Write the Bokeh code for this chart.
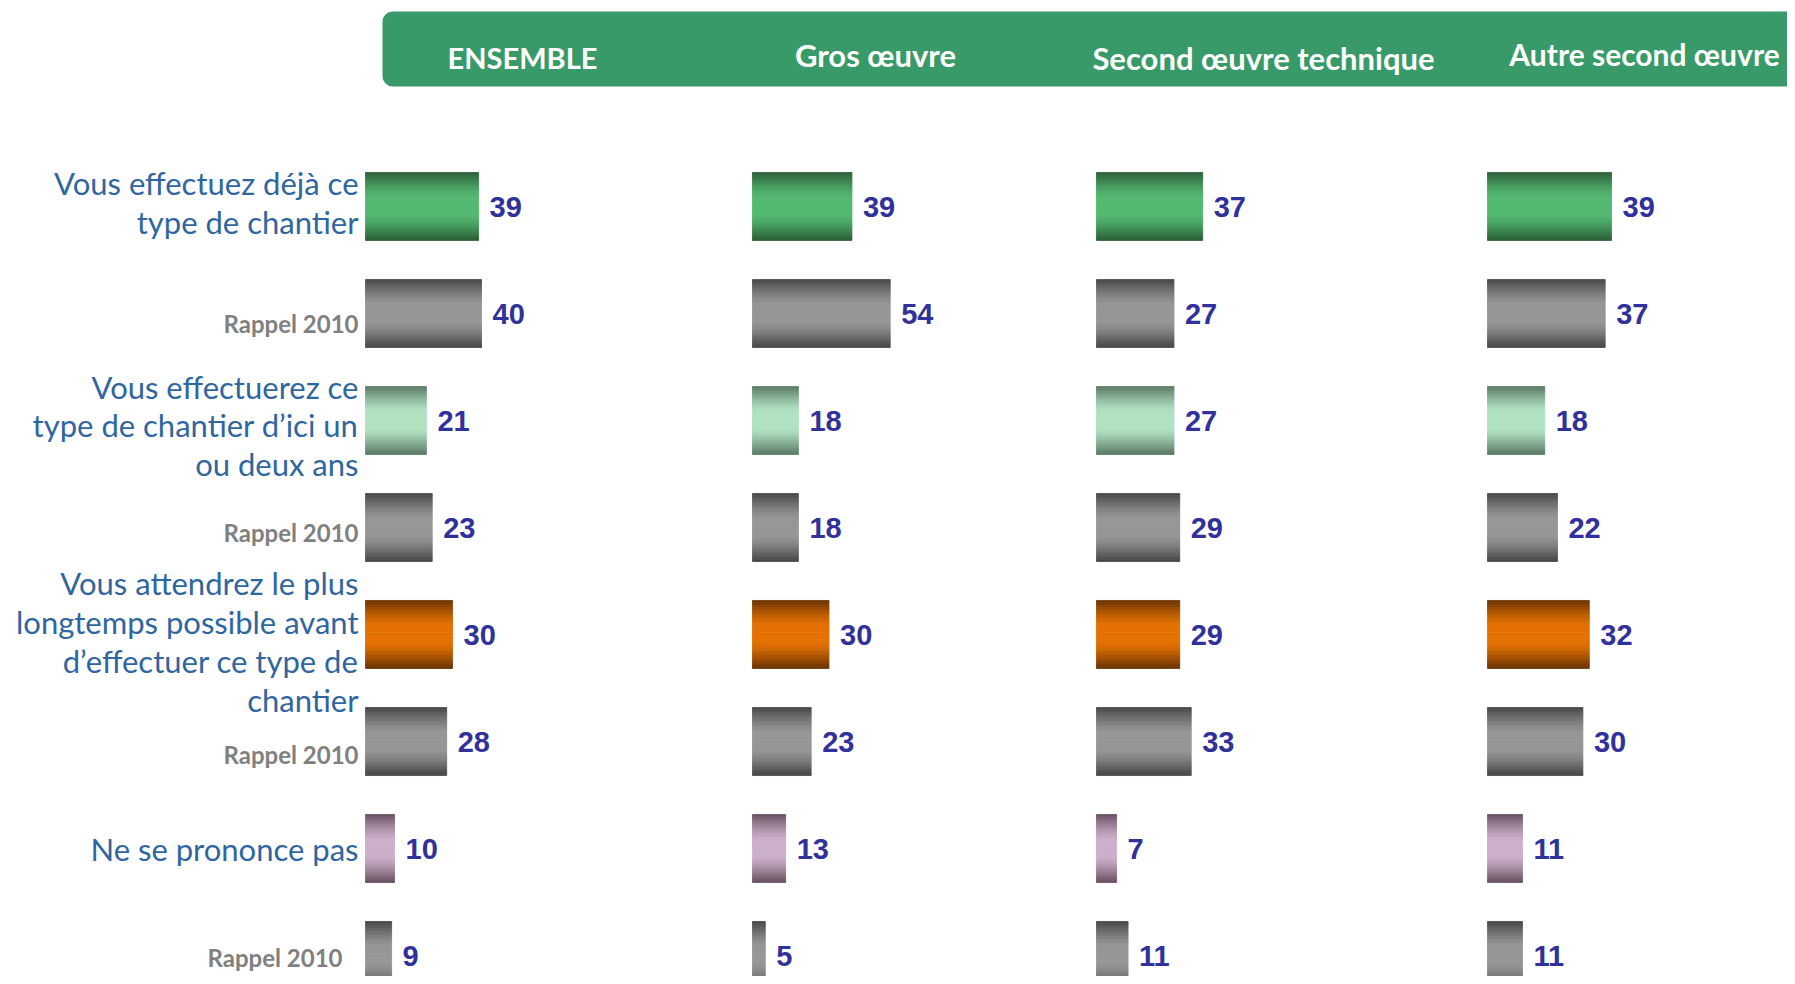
import numpy as np
from bokeh.plotting import figure
from bokeh.models import Range1d, BoxAnnotation, ColumnDataSource
from bokeh.core.properties import value
from bokeh.embed import file_html
from bokeh.resources import INLINE

# ---------------- data ----------------
columns = ["ENSEMBLE", "Gros œuvre", "Second œuvre technique", "Autre second œuvre"]
row_labels = [
    "Vous effectuez déjà ce\ntype de chantier",
    "Rappel 2010",
    "Vous effectuerez ce\ntype de chantier d’ici un\nou deux ans",
    "Rappel 2010",
    "Vous attendrez le plus\nlongtemps possible avant\nd’effectuer ce type de\nchantier",
    "Rappel 2010",
    "Ne se prononce pas",
    "Rappel 2010",
]
row_is_rappel = [False, True, False, True, False, True, False, True]
ensemble = [39, 40, 21, 23, 30, 28, 10, 9]
gros_oeuvre = [39, 54, 18, 18, 30, 23, 13, 5]
second_technique = [37, 27, 27, 29, 29, 33, 7, 11]
autre_second = [39, 37, 18, 22, 32, 30, 11, 11]
series = [ensemble, gros_oeuvre, second_technique, autre_second]

# ---------------- styles / layout ----------------
W, H = 1787, 976
row0_px, row_step = 206, 107
bar_h = 0.636
col_zero_px = [365, 752, 1096, 1487]
col_scale = [2.9, 2.55, 2.87, 3.18]
# (center colour, edge colour) per row
row_colors = [
    ("#53b970", "#2a5c37"),
    ("#969696", "#454545"),
    ("#b0e2c1", "#587763"),
    ("#969696", "#454545"),
    ("#e37100", "#683200"),
    ("#969696", "#454545"),
    ("#ccafca", "#654e5e"),
    ("#969696", "#454545"),
]
label_dy = [-4, 10, 5, 5, 7, 13, 0, 2]
label_dx = [0, 0, 0, 0, 0, 0, 0, -16]
header_x = [522, 875, 1263, 1644]
header_base = [57, 54, 57, 53]
header_size = ["29px", "31px", "31px", "30px"]


def hex2rgb(h):
    h = h.lstrip("#")
    return np.array([int(h[i:i + 2], 16) for i in (0, 2, 4)], dtype=float)


def mix(c1, c2, f):
    r = hex2rgb(c1) * (1 - f) + hex2rgb(c2) * f
    return "#%02x%02x%02x" % tuple(int(round(v)) for v in r)


p = figure(width=W, height=H, output_backend="svg", toolbar_location=None,
           x_range=Range1d(0, W),
           y_range=Range1d((H - row0_px) / row_step, -row0_px / row_step),
           x_axis_location=None, y_axis_location=None, min_border=0,
           outline_line_color=None, background_fill_color="white")
p.grid.visible = False
p.extra_y_ranges = {"px": Range1d(H, 0)}
p.extra_x_ranges = {f"c{c}": Range1d(-z / s, (W - z) / s)
                    for c, (z, s) in enumerate(zip(col_zero_px, col_scale))}

# header band
p.add_layout(BoxAnnotation(left=382, right=1830, top=11, bottom=86,
                           y_range_name="px", fill_color="#379a68", fill_alpha=1,
                           line_color=None, border_radius=10, level="underlay"))
hsrc = ColumnDataSource(dict(x=header_x, y=header_base, text=columns, size=header_size))
p.text(x="x", y="y", text="text", source=hsrc, y_range_name="px",
       text_align="center", text_baseline="alphabetic", text_color="white",
       text_font=value("Lato"), text_font_style="bold", text_font_size="size")

# gradient bars (drawn as horizontal strips)
N = 40
for c, vals in enumerate(series):
    L, R, T, B, C = [], [], [], [], []
    for i, v in enumerate(vals):
        cc, ec = row_colors[i]
        for k in range(N):
            t = abs(2 * (k + 0.5) / N - 1)
            f = max(0.0, (t - 0.25) / 0.75) ** 1.3
            y0 = i - bar_h / 2 + bar_h * k / N
            y1 = i - bar_h / 2 + bar_h * (k + 1) / N
            L.append(0); R.append(v); T.append(y0); B.append(y1)
            C.append(mix(cc, ec, f))
    src = ColumnDataSource(dict(left=L, right=R, top=T, bottom=B, color=C))
    p.quad(left="left", right="right", top="top", bottom="bottom", source=src,
           fill_color="color", line_color="color", line_width=0.8,
           x_range_name=f"c{c}")
    p.text(x=vals, y=list(range(len(vals))), text=[str(v) for v in vals],
           x_range_name=f"c{c}", x_offset=11, text_baseline="middle",
           text_align="left", text_color="#31319b",
           text_font=value("Liberation Sans"), text_font_style="bold",
           text_font_size="29px")

# row labels
main_idx = [i for i, r in enumerate(row_is_rappel) if not r]
rap_idx = [i for i, r in enumerate(row_is_rappel) if r]
p.text(x=[358 + label_dx[i] for i in main_idx],
       y=[row0_px + row_step * i + label_dy[i] for i in main_idx],
       text=[row_labels[i] for i in main_idx], y_range_name="px",
       text_align="right", text_baseline="middle", text_line_height=1.02,
       text_color="#2f66a0", text_font=value("Lato"), text_font_size="31px")
p.text(x=[358 + label_dx[i] for i in rap_idx],
       y=[row0_px + row_step * i + label_dy[i] for i in rap_idx],
       text=[row_labels[i] for i in rap_idx], y_range_name="px",
       text_align="right", text_baseline="middle",
       text_color="#808080", text_font=value("Lato"), text_font_style="bold",
       text_font_size="24px")

open("out.html", "w").write(file_html(p, INLINE))
